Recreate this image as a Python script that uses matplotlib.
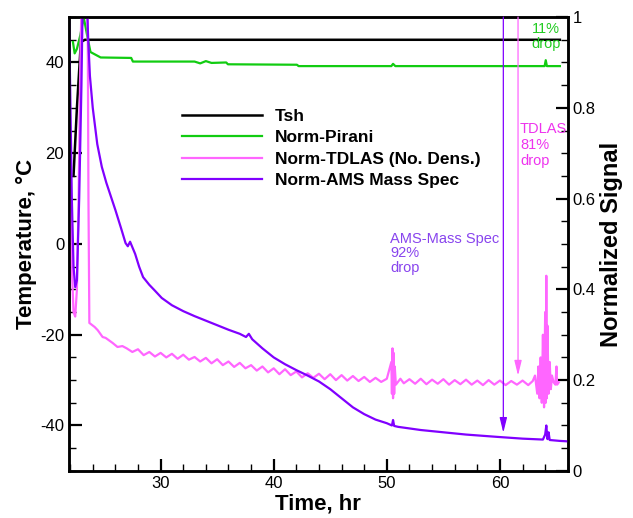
import matplotlib
matplotlib.use("Agg")
import matplotlib.pyplot as plt
from matplotlib.ticker import MultipleLocator

plt.rcParams['font.family'] = ['Liberation Sans', 'DejaVu Sans']
plt.rcParams['axes.unicode_minus'] = False

# shelf temperature (left axis, degC)
tsh_t = [22.3, 22.6, 22.95, 23.3, 65.3]
tsh_v = [15, 30, 44.5, 45, 45]

# normalized pirani (right axis)
pir_t = [22.25, 22.4, 22.6, 22.9, 23.2, 23.5, 23.8, 24.7, 27.4, 27.55, 33.0, 33.5, 34.0,
         34.5, 35.8, 35.95, 42.05, 42.2, 50.4, 50.55, 50.75, 63.95, 64.05, 64.15, 65.3]
pir_v = [0.945, 0.92, 0.93, 0.96, 1.0, 0.96, 0.923, 0.911, 0.91, 0.902, 0.902, 0.898, 0.903,
         0.899, 0.90, 0.896, 0.895, 0.892, 0.892, 0.897, 0.892, 0.892, 0.905, 0.892, 0.892]

# normalized TDLAS number density (right axis)
tdl_t = [21.9, 22.0, 22.15, 22.3, 22.45, 22.6, 22.75, 22.9, 23.0, 23.55, 23.62, 23.7,
         24.17, 24.44, 24.87, 25.14, 25.75, 26.19, 26.62,
         27.0, 27.5, 28.0, 28.5, 29.0, 29.5, 30.0, 30.5, 31.0, 31.5, 32.0, 32.5, 33.0, 33.5,
         34.0, 34.5, 35.0, 35.5, 36.0, 36.5, 37.0, 37.5, 38.0, 38.5, 39.0, 39.5, 40.0, 40.5,
         41.0, 41.5, 42.0, 42.5, 43.0, 43.5, 44.0, 44.5, 45.0, 45.5, 46.0, 46.5, 47.0, 47.5,
         48.0, 48.5, 49.0, 49.5, 50.0,
         50.4, 50.45, 50.5, 50.55, 50.6, 50.65, 50.7, 50.8,
         51.2, 51.5, 52.0, 52.5, 53.0, 53.5, 54.0, 54.5, 55.0, 55.5, 56.0, 56.5, 57.0, 57.5,
         58.0, 58.5, 59.0, 59.5, 60.0, 60.5, 61.0, 61.5, 62.0, 62.5, 62.9,
         63.1, 63.3, 63.4, 63.5, 63.6, 63.7, 63.8, 63.9, 64.0, 64.05, 64.1, 64.15, 64.2, 64.3,
         64.4, 64.5, 64.6, 64.75, 64.9, 65.0, 65.05, 65.2]
tdl_v = [0.95, 0.70, 0.45, 0.35, 0.34, 0.40, 0.60, 0.90, 1.02, 1.02, 0.60, 0.326,
         0.317, 0.31, 0.295, 0.293, 0.282, 0.273, 0.275,
         0.270, 0.262, 0.268, 0.255, 0.262, 0.252, 0.260, 0.250, 0.258, 0.247, 0.256, 0.245, 0.251, 0.241,
         0.249, 0.237, 0.246, 0.233, 0.241, 0.229, 0.238, 0.226, 0.233, 0.221, 0.230, 0.217, 0.226, 0.213,
         0.224, 0.211, 0.219, 0.206, 0.215, 0.205, 0.214, 0.202, 0.213, 0.200, 0.211, 0.199, 0.209, 0.198,
         0.207, 0.196, 0.205, 0.196, 0.203,
         0.24, 0.17, 0.27, 0.16, 0.26, 0.17, 0.23, 0.19,
         0.203, 0.193, 0.202, 0.192, 0.203, 0.191, 0.201, 0.192, 0.202, 0.190, 0.200, 0.191, 0.201, 0.190,
         0.199, 0.189, 0.200, 0.190, 0.199, 0.189, 0.198, 0.190, 0.199, 0.189, 0.198,
         0.21, 0.17, 0.23, 0.16, 0.25, 0.15, 0.30, 0.14, 0.35, 0.15, 0.43, 0.16, 0.32, 0.17,
         0.24, 0.18, 0.21, 0.195, 0.19, 0.23, 0.19, 0.195]

# normalized AMS mass spec (right axis)
ams_t = [21.9, 22.0, 22.15, 22.3, 22.45, 22.6, 22.8, 23.0, 23.1, 23.5, 23.6, 23.75,
         24.0, 24.4, 24.8, 25.2, 25.6, 26.0, 26.5, 26.9, 27.1, 27.3, 27.55, 27.75, 28.1,
         28.45, 29.0, 29.5, 30.1, 31.0, 32.0, 33.0, 34.0, 35.0, 36.0, 37.0, 37.55, 37.8, 38.1,
         39.0, 40.0, 41.0, 42.0, 43.0, 44.0, 45.0, 46.0, 47.0, 48.0, 49.0, 50.0, 50.45, 50.55,
         50.65, 51.0, 53.0, 55.0, 57.0, 59.7, 62.0, 63.8, 64.0, 64.1, 64.2, 64.3, 64.4, 65.3, 66.0]
ams_v = [1.0, 0.85, 0.60, 0.45, 0.405, 0.42, 0.60, 0.85, 1.02, 1.02, 0.95, 0.87,
         0.80, 0.72, 0.67, 0.635, 0.605, 0.575, 0.535, 0.502, 0.495, 0.505, 0.49, 0.478, 0.45,
         0.427, 0.41, 0.397, 0.381, 0.365, 0.352, 0.341, 0.331, 0.321, 0.311, 0.302, 0.295, 0.302, 0.29,
         0.27, 0.25, 0.235, 0.222, 0.21, 0.197, 0.18, 0.16, 0.14, 0.125, 0.113, 0.105, 0.10, 0.112,
         0.099, 0.097, 0.09, 0.085, 0.08, 0.075, 0.071, 0.069, 0.08, 0.10, 0.07, 0.085, 0.068, 0.066, 0.065]

# drop arrows: x position and tip value
arrow_x = [60.3, 61.6]
arrow_tip = [0.084, 0.21]

black = 'black'
green = '#11cc11'
pink = '#ff66ff'
purple = '#8000ff'

fig = plt.figure(figsize=(6.33, 5.18), dpi=100)
ax = fig.add_axes([0.109, 0.091, 0.788, 0.876])
ax2 = ax.twinx()

l1, = ax.plot(tsh_t, tsh_v, color=black, lw=1.8, label='Tsh')
l2, = ax2.plot(pir_t, pir_v, color=green, lw=1.6, label='Norm-Pirani')
l3, = ax2.plot(tdl_t, tdl_v, color=pink, lw=1.6, label='Norm-TDLAS (No. Dens.)')
l4, = ax2.plot(ams_t, ams_v, color=purple, lw=1.6, label='Norm-AMS Mass Spec')

ax.set_xlim(21.9, 66.0)
ax.set_ylim(-50, 50)
ax2.set_ylim(0, 1)

ax.xaxis.set_major_locator(MultipleLocator(10))
ax.xaxis.set_minor_locator(MultipleLocator(2))
ax.yaxis.set_major_locator(MultipleLocator(20))
ax.yaxis.set_minor_locator(MultipleLocator(5))
ax2.yaxis.set_minor_locator(MultipleLocator(0.05))
ax2.set_yticks([0, 0.2, 0.4, 0.6, 0.8, 1.0])
ax2.set_yticklabels(['0', '0.2', '0.4', '0.6', '0.8', '1'])

for a in (ax, ax2):
    a.tick_params(which='major', direction='in', length=9, width=1.6, labelsize=12)
    a.tick_params(which='minor', direction='in', length=5, width=1.0)
    for s in a.spines.values():
        s.set_linewidth(1.8)
ax.tick_params(axis='y', which='both', right=False)
ax.tick_params(axis='x', which='both', top=False)

ax.set_xlabel('Time, hr', fontsize=16, fontweight='bold', labelpad=2)
ax.set_ylabel('Temperature, \u00b0C', fontsize=16, fontweight='bold', labelpad=2)
ax2.set_ylabel('Normalized Signal', fontsize=17, fontweight='bold', labelpad=3)

for x, tip, c in zip(arrow_x, arrow_tip, [purple, pink]):
    ax2.annotate('', xy=(x, tip), xytext=(x, 1.0),
                 arrowprops=dict(arrowstyle='-|>,head_length=0.9,head_width=0.22',
                                 color=c, lw=0.9, shrinkA=0, shrinkB=0))

ax2.text(64.08, 0.99, '11%\ndrop', color='#22cc22', fontsize=10.5, ha='center', va='top',
         linespacing=1.1)
ax2.text(61.78, 0.768, 'TDLAS\n81%\ndrop', color='#ee33ee', fontsize=10.5, ha='left', va='top',
         linespacing=1.15)
ax2.text(50.28, 0.527, 'AMS-Mass Spec\n92%\ndrop', color='#8844ee', fontsize=10.5, ha='left',
         va='top', linespacing=1.05)

ax2.legend([l1, l2, l3, l4], [l.get_label() for l in (l1, l2, l3, l4)],
           loc='upper left', bbox_to_anchor=(0.226, 0.798), frameon=False,
           prop={'weight': 'bold', 'size': 12.5}, handlelength=4.6, handletextpad=0.75,
           labelspacing=0.36, borderpad=0, borderaxespad=0)

fig.savefig('out.png', dpi=100)
